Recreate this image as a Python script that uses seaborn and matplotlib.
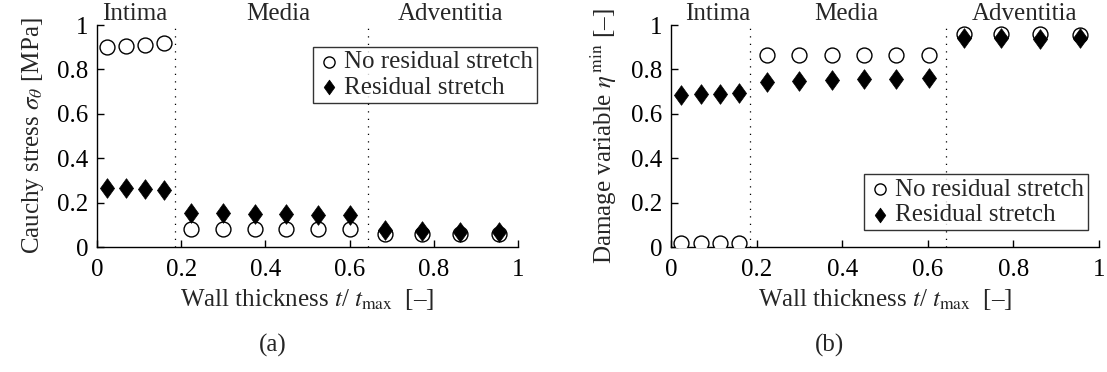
import numpy as np
import pandas as pd
import matplotlib
matplotlib.use("Agg")
import matplotlib.pyplot as plt
import seaborn as sns
from matplotlib.path import Path

# ---- data ----
x_pos = [0.024, 0.069, 0.115, 0.160,
         0.224, 0.299, 0.375, 0.450, 0.526, 0.602,
         0.684, 0.772, 0.863, 0.955]
stress_no = [0.900, 0.905, 0.910, 0.920,
             0.083, 0.083, 0.083, 0.083, 0.083, 0.083,
             0.060, 0.058, 0.060, 0.060]
stress_res = [0.268, 0.265, 0.260, 0.257,
              0.155, 0.152, 0.150, 0.148, 0.146, 0.143,
              0.075, 0.072, 0.068, 0.066]
damage_no = [0.020, 0.020, 0.020, 0.020,
             0.865, 0.865, 0.865, 0.865, 0.865, 0.865,
             0.960, 0.960, 0.958, 0.955]
damage_res = [0.685, 0.688, 0.690, 0.692,
              0.745, 0.750, 0.752, 0.755, 0.758, 0.760,
              0.940, 0.940, 0.938, 0.940]
boundaries = [0.185, 0.643]
layer_names = ["Intima", "Media", "Adventitia"]
series_names = ["No residual stretch", "Residual stretch"]
ticks = [0, 0.2, 0.4, 0.6, 0.8, 1]
tick_labels = ["0", "0.2", "0.4", "0.6", "0.8", "1"]

sns.set_theme(style="white")
plt.rcParams["font.family"] = ["Liberation Serif", "DejaVu Serif"]
plt.rcParams["mathtext.fontset"] = "stix"

FS = 18
diamond = Path([(0, 1), (0.72, 0), (0, -1), (-0.72, 0), (0, 1)],
               [Path.MOVETO, Path.LINETO, Path.LINETO, Path.LINETO, Path.CLOSEPOLY])

fig = plt.figure(figsize=(11.07, 3.72), dpi=100)
ax1 = fig.add_axes([97/1107, 1-247/372, 421/1107, 222/372])
ax2 = fig.add_axes([671/1107, 1-247/372, 428/1107, 222/372])

def panel(ax, yno, yres, ylabel, ylabelpad, layer_x, leg_loc, leg_anchor, caption, cap_x):
    df = pd.DataFrame({"x": x_pos, "no": yno, "res": yres})
    for b in boundaries:
        ax.axvline(b, color="black", linestyle=(0, (1, 5)), linewidth=0.9, zorder=1)
    sns.scatterplot(data=df, x="x", y="no", ax=ax, marker="o", s=115,
                    facecolor="white", edgecolor="black", linewidth=1.0,
                    label=series_names[0], zorder=3)
    sns.scatterplot(data=df, x="x", y="res", ax=ax, marker=diamond, s=200,
                    color="black", edgecolor="black", linewidth=0.5,
                    label=series_names[1], zorder=4)
    ax.set_xlim(0, 1)
    ax.set_ylim(0, 1)
    ax.set_xticks(ticks)
    ax.set_xticklabels(tick_labels)
    ax.set_yticks(ticks)
    ax.set_yticklabels(tick_labels)
    ax.tick_params(direction="in", length=5, width=1, colors="black",
                   labelsize=FS, top=False, right=False, bottom=True, left=True)
    ax.tick_params(axis="x", pad=9)
    ax.tick_params(axis="y", pad=6)
    for s in ["top", "right"]:
        ax.spines[s].set_visible(False)
    for s in ["left", "bottom"]:
        ax.spines[s].set_color("black")
        ax.spines[s].set_linewidth(1.0)
    ax.set_xlabel(r"Wall thickness $t$/ $t_{\mathrm{max}}$  [–]", fontsize=FS, labelpad=4)
    ax.set_ylabel(ylabel, fontsize=FS, labelpad=ylabelpad)
    for name, lx in zip(layer_names, layer_x):
        ax.text(lx, 1.0, name, ha="center", va="bottom", fontsize=FS,
                transform=ax.get_xaxis_transform(), clip_on=False)
    leg = ax.legend(loc=leg_loc, bbox_to_anchor=leg_anchor, fontsize=FS,
                    frameon=True, fancybox=False, edgecolor="black",
                    borderpad=0.15, handletextpad=0.1, handlelength=1.0,
                    labelspacing=0.12, borderaxespad=0, markerscale=0.75)
    leg.get_frame().set_linewidth(1.0)
    fig.text(cap_x / 1107, 1 - 345 / 372, caption, ha="center", va="center", fontsize=FS)

panel(ax1, stress_no, stress_res, r"Cauchy stress $\sigma_\theta$ [MPa]", 8,
      [0.09, 0.43, 0.84], "upper left", (0.513, 0.90), "(a)", 273)
panel(ax2, damage_no, damage_res, r"Damage variable $\eta^{\,\mathrm{min}}$ [–]", 9,
      [0.108, 0.41, 0.827], "lower left", (0.451, 0.077), "(b)", 829)

fig.savefig("out.png", dpi=100)
